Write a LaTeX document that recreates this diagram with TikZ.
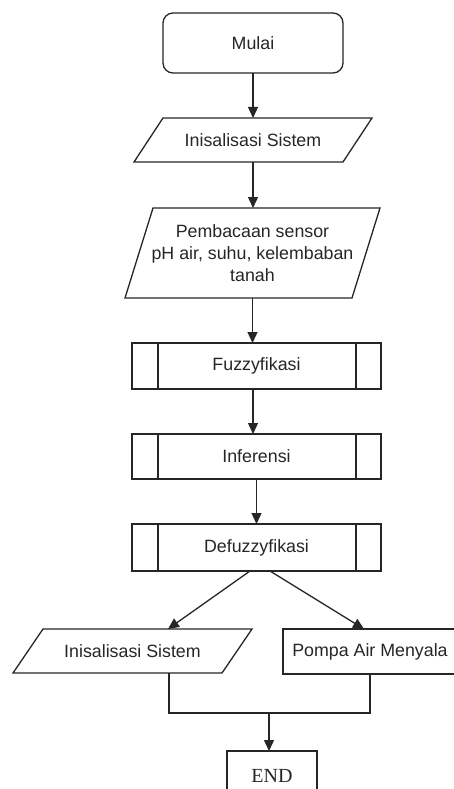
\documentclass[tikz,border=0pt]{standalone}
\usepackage{fontspec}
\setmainfont{Liberation Sans}
\newfontfamily\endfont{Liberation Serif}
\usetikzlibrary{positioning,calc,arrows.meta}
\tikzset{
    base/.style = {rectangle, inner sep=0pt, outer sep=0pt, align=center,
        font=\fontsize{17.8}{21.7}\selectfont, text=black!85},
    terminal/.style = {base, draw, rounded corners=10pt, fill=white},
    io/.style = {base},
    subproc/.style = {base, draw, fill=white,
        minimum width=249pt, minimum height=46pt},
    process/.style = {base, draw, fill=white},
    arrow/.style = {draw, -{Triangle[width=10pt,length=11pt]}}
}
\begin{document}
\begin{tikzpicture}[x=1pt, y=-1pt, line width=1.3pt, color=black!85]
    \useasboundingbox (0,0) rectangle (453,789);
    % main column
    \node[terminal, minimum width=180pt, minimum height=60pt] (start) at (253,43) {Mulai};
    \node[io, minimum width=238pt, minimum height=44pt] (init) at (253,140) {Inisalisasi Sistem};
    \node[io, minimum width=255pt, minimum height=90pt] (read) at (252.5,253) {Pembacaan sensor\\pH air, suhu, kelembaban\\tanah};
    \node[subproc] (fuzz) at (256.5,366) {Fuzzyfikasi};
    \node[subproc, minimum height=45pt] (infer) at (256.5,456.5) {Inferensi};
    \node[subproc, minimum height=47pt] (defuzz) at (256.5,547.5) {Defuzzyfikasi};
    % branches
    \node[io, minimum width=239pt, minimum height=44pt] (outA) at (132.5,651) {Inisalisasi Sistem};
    \node[process, minimum width=174pt, minimum height=45pt] (pump) at (370,651.5) {Pompa Air Menyala};
    \node[process, font=\endfont\fontsize{20}{24}\selectfont, minimum width=90pt, minimum height=50pt] (end) at (272,776) {END};
    \coordinate (join) at (269,713);
    % parallelograms
    \foreach \n/\s in {init/29, read/28, outA/30}
        \draw (\n.south west) -- ([xshift=\s pt]\n.north west) -- (\n.north east)
            -- ([xshift=-\s pt]\n.south east) -- cycle;
    % subprocess side bars
    \foreach \n in {fuzz, infer, defuzz} {
        \draw ([xshift=26pt]\n.north west) -- ([xshift=26pt]\n.south west);
        \draw ([xshift=-25pt]\n.north east) -- ([xshift=-25pt]\n.south east);
    }
    % connectors
    \draw[arrow] (start) -- (init);
    \draw[arrow] (init) -- (init |- read.north);
    \draw[arrow] (read) -- (read.south |- fuzz.north);
    \draw[arrow] ([xshift=-3.5pt]fuzz.south) -- ([xshift=-3.5pt]infer.north);
    \draw[arrow] (infer) -- (defuzz);
    \draw[arrow] ([xshift=-6.5pt]defuzz.south) -- ([xshift=35.5pt]outA.north);
    \draw[arrow] ([xshift=13.5pt]defuzz.south) -- ([xshift=-6pt]pump.north);
    \draw ([xshift=36.5pt]outA.south) |- (join) -| (pump.south);
    \draw[arrow] (join) -- (join |- end.north);
\end{tikzpicture}
\end{document}
